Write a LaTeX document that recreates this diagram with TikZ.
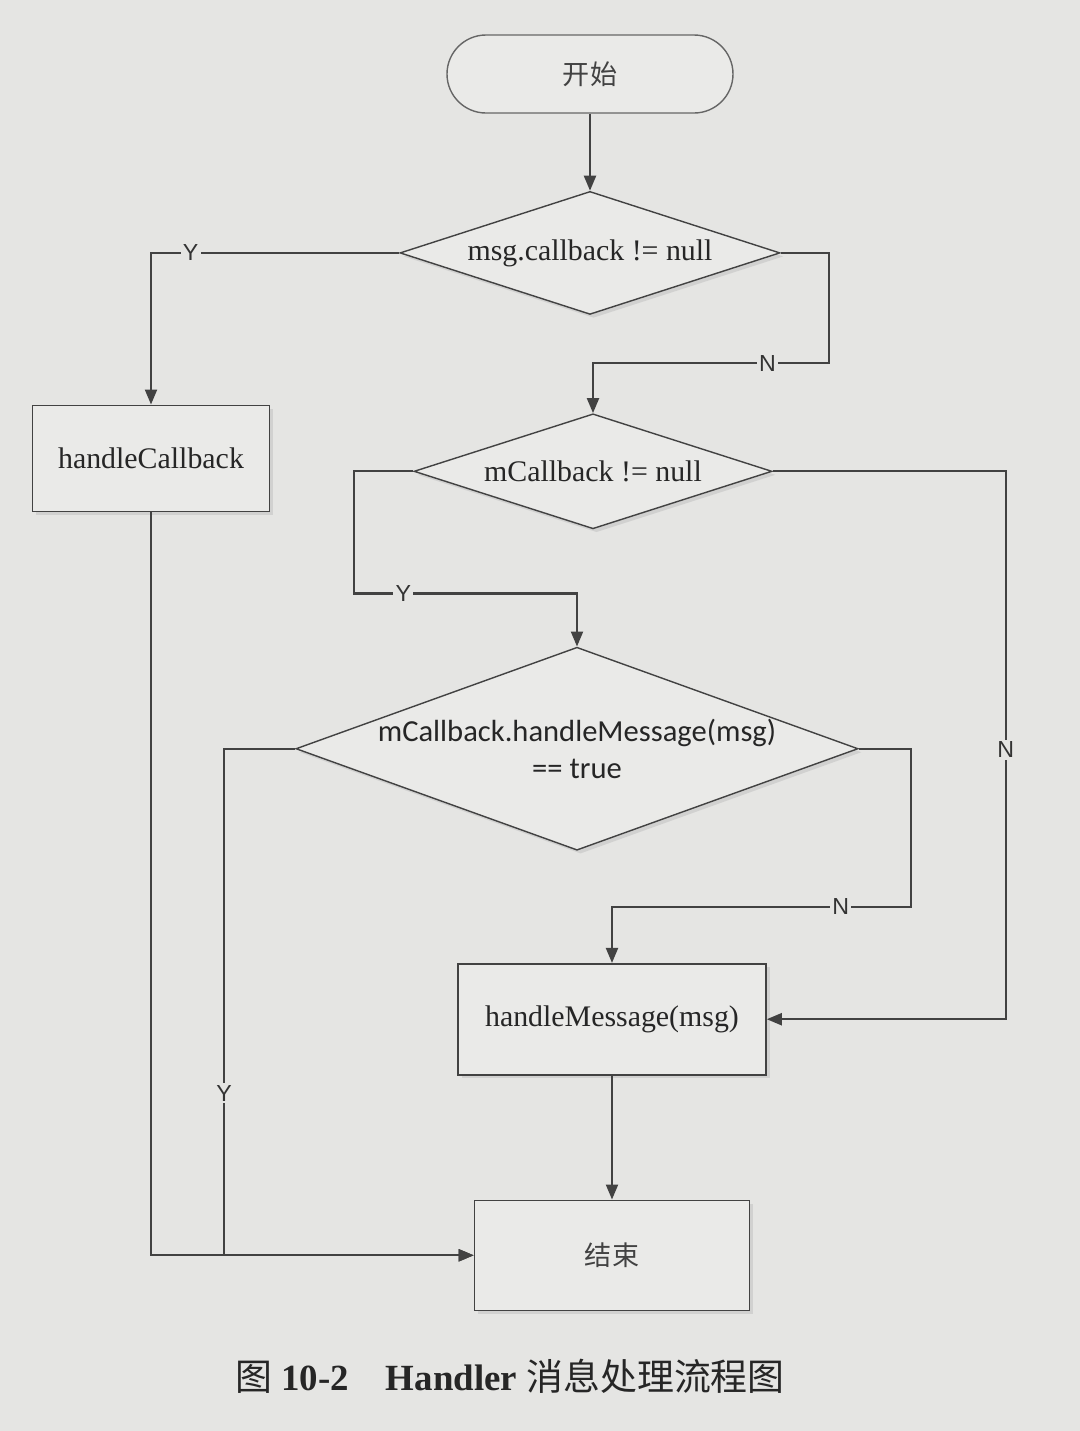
\documentclass[tikz,border=0pt]{standalone}
\usepackage{fontspec}
\setmainfont{Liberation Serif}
\setsansfont{Liberation Sans}
\newfontfamily\cjk{Noto Sans CJK SC}
\newfontfamily\calibfont{Carlito}
\usetikzlibrary{positioning, arrows.meta, shapes.geometric, shadows}
\definecolor{paper}{RGB}{229,229,227}
\definecolor{boxfill}{RGB}{234,234,232}
\definecolor{ink}{RGB}{66,66,66}

\begin{document}
\begin{tikzpicture}[
    node distance=1cm,
    boxshadow/.style={drop shadow={shadow xshift=0.35mm, shadow yshift=-0.35mm, fill=gray!50}},
    term/.style={rectangle, rounded corners=3.9mm, draw=gray!80!black, line width=0.4pt, fill=boxfill, minimum width=2.86cm, minimum height=0.78cm, font=\cjk\fontsize{7.7}{9}\selectfont, text=ink},
    proc/.style={rectangle, draw=ink, line width=0.45pt, fill=boxfill, boxshadow, font=\fontsize{8.5}{10}\selectfont, text=black!85},
    dec/.style={diamond, draw=ink, line width=0.4pt, fill=boxfill, boxshadow, inner sep=0pt, align=center, font=\fontsize{8.5}{10}\selectfont, text=black!85},
    line/.style={draw=ink, line width=0.6pt, -{Triangle[length=1.5mm, width=1.2mm]}},
    yn/.style={fill=paper, inner sep=0.6pt, font=\sffamily\fontsize{6.6}{7}\selectfont, text=black!80}
  ]

  \fill[paper] (0,0) rectangle (10.8,-14.31);

  \node[term] (start) at (5.90,-0.74) {开始};
  \node[dec, minimum width=3.8cm, minimum height=1.23cm, aspect=3.09, below=0.77cm of start] (msgcb) {msg.callback != null};
  \node[dec, minimum width=3.58cm, minimum height=1.15cm, aspect=3.11, below=0.98cm of msgcb, xshift=0.3mm] (mcb) {mCallback != null};
  \node[dec, minimum width=5.62cm, minimum height=2.03cm, aspect=2.77, below=1.17cm of mcb, xshift=-1.6mm, font=\calibfont\fontsize{8.7}{10.4}\selectfont] (hmcb) {mCallback.handleMessage(msg)\\== true};
  \node[proc, minimum width=2.37cm, minimum height=1.06cm, left=1.43cm of mcb, yshift=1.3mm] (hcb) {handleCallback};
  \node[proc, minimum width=3.08cm, minimum height=1.11cm, below=1.12cm of hmcb, xshift=3.5mm] (hmsg) {handleMessage(msg)};
  \node[proc, minimum width=2.75cm, minimum height=1.10cm, below=1.24cm of hmsg, font=\cjk\fontsize{7.7}{9}\selectfont, text=ink] (stop) {结束};
  \node[below=0.36cm of stop, xshift=-1.02cm, font=\fontsize{10.5}{12}\selectfont, text=black!85] (caption) {{\cjk 图} \textbf{10-2}\quad \textbf{Handler} {\cjk 消息处理流程图}};

  \draw[line] (start) -- (msgcb);
  \draw[line] (msgcb.west) -| node[yn, pos=0.42]{Y} (hcb.north);
  \draw[line] (msgcb.east) -- ++(0.48,0) |- node[yn, pos=0.63]{N} ([yshift=5mm]mcb.north) -- (mcb.north);
  \draw[line] (mcb.west) -- ++(-0.59,0) |- node[yn, pos=0.61]{Y} ([yshift=5.3mm]hmcb.north) -- (hmcb.north);
  \draw[line] (mcb.east) -- ++(2.33,0) |- node[yn, pos=0.254]{N} (hmsg.east);
  \draw[line] (hmcb.east) -- ++(0.52,0) |- node[yn, pos=0.617]{N} ([yshift=5.6mm]hmsg.north) -- (hmsg.north);
  \draw[line] (hmcb.west) -- ++(-0.71,0) |- node[yn, pos=0.34]{Y} (stop.west);
  \draw[line] (hcb.south) |- (stop.west);
  \draw[line] (hmsg) -- (stop);

\end{tikzpicture}
\end{document}
